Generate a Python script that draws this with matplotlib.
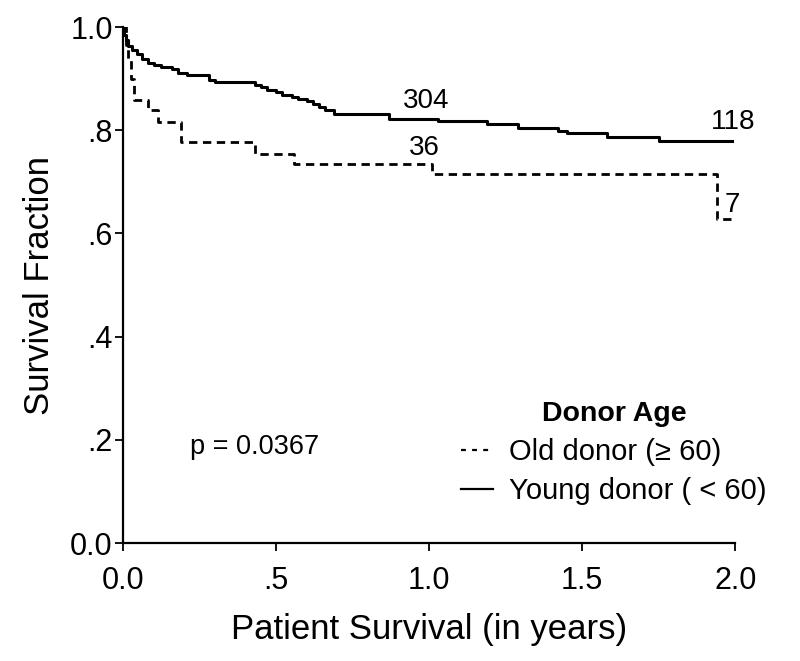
import matplotlib
matplotlib.use("Agg")
import matplotlib.pyplot as plt
from matplotlib.lines import Line2D

plt.rcParams['font.family'] = ['Liberation Sans', 'DejaVu Sans']

# Old donor (>= 60) Kaplan-Meier steps
old_t = [0.0, 0.008, 0.016, 0.026, 0.036, 0.082, 0.115, 0.19, 0.43, 0.557, 1.01, 1.94, 1.99]
old_s = [1.0, 0.965, 0.936, 0.90, 0.858, 0.839, 0.816, 0.777, 0.754, 0.734, 0.715, 0.628, 0.628]

# Young donor (< 60) Kaplan-Meier steps
young_t = [0.0, 0.004, 0.008, 0.016, 0.03, 0.045, 0.06, 0.08, 0.1, 0.125, 0.16, 0.18, 0.21,
           0.28, 0.30, 0.43, 0.45, 0.47, 0.50, 0.52, 0.55, 0.57, 0.60, 0.62, 0.64, 0.66, 0.69,
           0.87, 1.03, 1.19, 1.29, 1.42, 1.45, 1.58, 1.75, 1.99]
young_s = [1.0, 0.985, 0.975, 0.963, 0.955, 0.947, 0.938, 0.93, 0.926, 0.922, 0.918, 0.912, 0.907,
           0.898, 0.893, 0.888, 0.884, 0.879, 0.874, 0.869, 0.865, 0.861, 0.856, 0.851, 0.845, 0.839, 0.832,
           0.822, 0.818, 0.812, 0.805, 0.798, 0.794, 0.787, 0.779, 0.779]

x_ticks = [0.0, 0.5, 1.0, 1.5, 2.0]
x_tick_labels = ['0.0', '.5', '1.0', '1.5', '2.0']
y_ticks = [0.0, 0.2, 0.4, 0.6, 0.8, 1.0]
y_tick_labels = ['0.0', '.2', '.4', '.6', '.8', '1.0']

# number-at-risk annotations: (t, s, text)
risk_labels = [(0.99, 0.857, '304'), (0.984, 0.766, '36'), (1.993, 0.816, '118'), (1.99, 0.655, '7')]

fig = plt.figure(figsize=(8.0, 6.61), dpi=100)
ax = fig.add_axes([0.154, 0.1785, 0.765, 0.7805])

ax.step(old_t, old_s, where='post', color='black', lw=2.0, linestyle=(0, (3.0, 2.0)))
ax.step(young_t, young_s, where='post', color='black', lw=2.2)

for t, s, txt in risk_labels:
    ax.text(t, s, txt, ha='center', va='center', fontsize=20, clip_on=False)

ax.text(0.43, 0.186, 'p = 0.0367', ha='center', va='center', fontsize=19.5)

ax.set_xlim(0, 2.0)
ax.set_ylim(0, 1.0)
ax.set_xticks(x_ticks)
ax.set_xticklabels(x_tick_labels)
ax.set_yticks(y_ticks)
ax.set_yticklabels(y_tick_labels)
ax.tick_params(labelsize=22, width=1.3, length=5.5, direction='out')
ax.tick_params(axis='x', pad=11)
ax.tick_params(axis='y', pad=2)
ax.spines['top'].set_visible(False)
ax.spines['right'].set_visible(False)
ax.spines['left'].set_linewidth(1.6)
ax.spines['bottom'].set_linewidth(1.6)

ax.set_xlabel('Patient Survival (in years)', fontsize=25, labelpad=12)
ax.set_ylabel('Survival Fraction', fontsize=25, labelpad=10)

handles = [Line2D([], [], color='black', lw=1.6, linestyle=(0, (2.2, 2.8))),
           Line2D([], [], color='black', lw=1.6)]
leg = ax.legend(handles, ['Old donor (\u2265 60)', 'Young donor ( < 60)'],
                title='Donor Age', loc='upper left', bbox_to_anchor=(0.5525, 0.275),
                frameon=False, fontsize=21, handlelength=1.1, handletextpad=0.55,
                borderpad=0, borderaxespad=0, labelspacing=0.38,
                title_fontproperties={'weight': 'bold', 'size': 20.5})

fig.savefig('out.png', dpi=100)
